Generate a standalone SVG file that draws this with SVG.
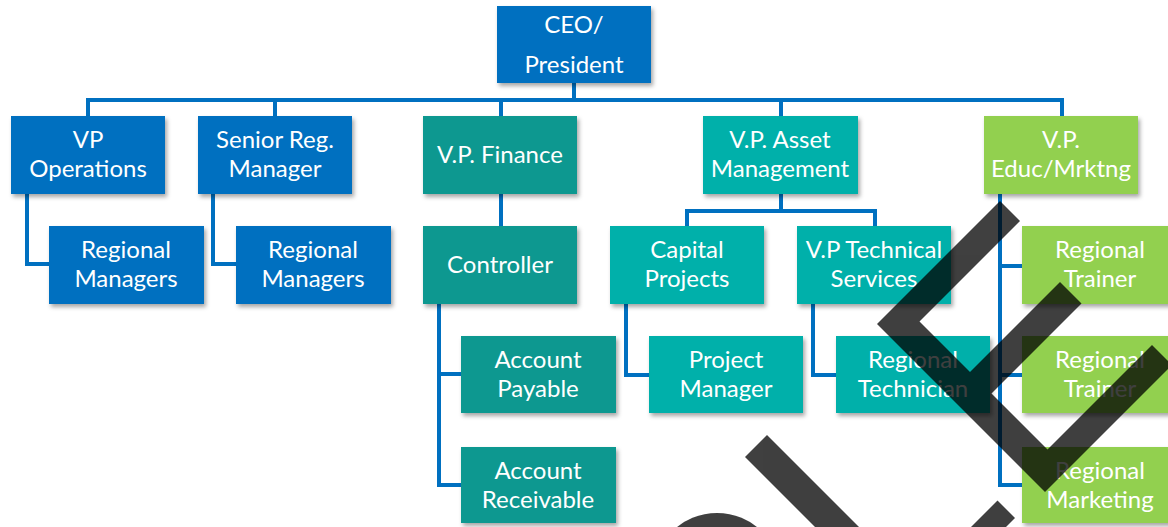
<svg xmlns="http://www.w3.org/2000/svg" width="1168" height="527" viewBox="0 0 1168 527">
  <defs>
    <filter id="shadow" x="-10%" y="-10%" width="130%" height="140%">
      <feDropShadow dx="2" dy="3" stdDeviation="2" flood-color="#000" flood-opacity="0.35"/>
    </filter>
  </defs>
  <style>
    .box { filter: url(#shadow); }
    .blue { fill: #0070C0; }
    .fin { fill: #0B9890; }
    .asset { fill: #00B0AA; }
    .green { fill: #92D050; }
    text { font-family: Lato, "Liberation Sans", sans-serif; font-size: 24px; fill: #fff; text-anchor: middle; }
    .wire { fill: none; stroke: #0070C0; stroke-width: 4; stroke-linecap: square; stroke-linejoin: miter; }
  </style>
  <rect width="1168" height="527" fill="#fff"/>

  <!-- reporting lines -->
  <g id="connectors">
    <path class="wire" d="M574 83 V100"/>
    <path class="wire" d="M88 116 V100 H1062 V116"/>
    <path class="wire" d="M275 100 V116 M501 100 V116 M781 100 V116"/>
    <path class="wire" d="M27 194 V264 H49"/>
    <path class="wire" d="M213 194 V264 H236"/>
    <path class="wire" d="M501 194 V226"/>
    <path class="wire" d="M439 304 V485 H461 M439 374 H461"/>
    <path class="wire" d="M781 194 V211 M687 226 V211 H875 V226"/>
    <path class="wire" d="M626 304 V375 H649"/>
    <path class="wire" d="M813 303 V375 H836"/>
    <path class="wire" d="M1000 194 V485 H1022 M1000 266 H1022 M1000 375 H1022"/>
  </g>

  <g id="ceo">
    <rect class="box blue" x="497" y="6" width="154" height="77"/>
    <text x="574" y="33">CEO/</text>
    <text x="574" y="73">President</text>
  </g>

  <g id="vp-operations">
    <rect class="box blue" x="11" y="116" width="154" height="78"/>
    <text x="88" y="148">VP</text>
    <text x="88" y="177">Operations</text>
  </g>
  <g id="senior-reg-manager">
    <rect class="box blue" x="198" y="116" width="154" height="78"/>
    <text x="275" y="148">Senior Reg.</text>
    <text x="275" y="177">Manager</text>
  </g>
  <g id="vp-finance">
    <rect class="box fin" x="423" y="116" width="154" height="78"/>
    <text x="500" y="163">V.P. Finance</text>
  </g>
  <g id="vp-asset-management">
    <rect class="box asset" x="703" y="116" width="155" height="78"/>
    <text x="780" y="148">V.P. Asset</text>
    <text x="780" y="177">Management</text>
  </g>
  <g id="vp-educ-mrktng">
    <rect class="box green" x="984" y="116" width="154" height="78"/>
    <text x="1061" y="148">V.P.</text>
    <text x="1061" y="177">Educ/Mrktng</text>
  </g>

  <g id="regional-managers-1">
    <rect class="box blue" x="49" y="226" width="155" height="78"/>
    <text x="126" y="258">Regional</text>
    <text x="126" y="287">Managers</text>
  </g>
  <g id="regional-managers-2">
    <rect class="box blue" x="236" y="226" width="155" height="78"/>
    <text x="313" y="258">Regional</text>
    <text x="313" y="287">Managers</text>
  </g>
  <g id="controller">
    <rect class="box fin" x="423" y="226" width="154" height="78"/>
    <text x="500" y="273">Controller</text>
  </g>
  <g id="capital-projects">
    <rect class="box asset" x="610" y="226" width="154" height="78"/>
    <text x="687" y="258">Capital</text>
    <text x="687" y="287">Projects</text>
  </g>
  <g id="vp-technical-services">
    <rect class="box asset" x="797" y="226" width="154" height="78"/>
    <text x="874" y="258">V.P Technical</text>
    <text x="874" y="287">Services</text>
  </g>
  <g id="regional-trainer-1">
    <rect class="box green" x="1022" y="226" width="154" height="78"/>
    <text x="1100" y="258">Regional</text>
    <text x="1100" y="287">Trainer</text>
  </g>

  <g id="account-payable">
    <rect class="box fin" x="461" y="336" width="155" height="77"/>
    <text x="538" y="368">Account</text>
    <text x="538" y="397">Payable</text>
  </g>
  <g id="project-manager">
    <rect class="box asset" x="649" y="336" width="154" height="77"/>
    <text x="726" y="368">Project</text>
    <text x="726" y="397">Manager</text>
  </g>
  <g id="regional-technician">
    <rect class="box asset" x="836" y="336" width="154" height="77"/>
    <text x="913" y="368">Regional</text>
    <text x="913" y="397">Technician</text>
  </g>
  <g id="regional-trainer-2">
    <rect class="box green" x="1022" y="336" width="154" height="77"/>
    <text x="1100" y="368">Regional</text>
    <text x="1100" y="397">Trainer</text>
  </g>

  <g id="account-receivable">
    <rect class="box fin" x="461" y="447" width="155" height="76"/>
    <text x="538" y="479">Account</text>
    <text x="538" y="508">Receivable</text>
  </g>
  <g id="regional-marketing">
    <rect class="box green" x="1022" y="447" width="154" height="76"/>
    <text x="1100" y="479">Regional</text>
    <text x="1100" y="508">Marketing</text>
  </g>

  <!-- translucent check strokes laid over the chart -->
  <g id="check-overlay" opacity="0.75" fill="#000">
    <polygon points="1000,201 1020,221 919.5,321.5 1047.5,449.5 1152,345 1172,365 1045,492 877,324"/>
    <polygon points="970,372 1060,282 1081.5,303.5 969,416"/>
    <polygon points="745,457 767,435 867,535 823,535"/>
    <polygon points="997.5,500.5 1015,518 993,540 958,540"/>
    <circle cx="717" cy="577" r="64"/>
  </g>
</svg>
